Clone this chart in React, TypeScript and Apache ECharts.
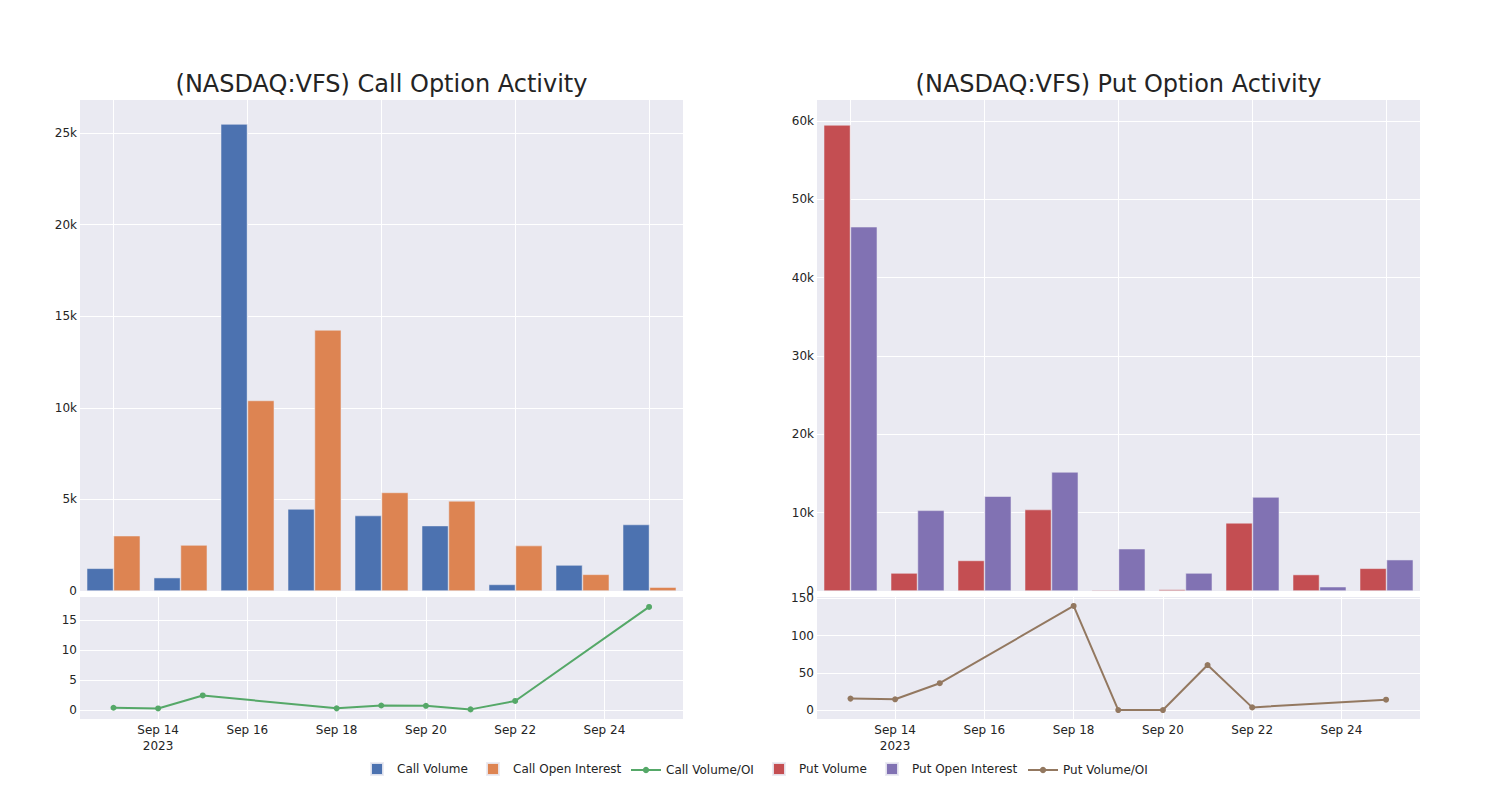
import React, { useEffect, useRef } from 'react';
import * as echarts from 'echarts';

// ---------- data ----------
const dates = ['2023-09-13', '2023-09-14', '2023-09-15', '2023-09-18', '2023-09-19', '2023-09-20', '2023-09-21', '2023-09-22', '2023-09-25'];
const callVolume = [1240, 730, 25490, 4480, 4120, 3570, 360, 1420, 3630];
const callOpenInterest = [3020, 2510, 10400, 14250, 5380, 4920, 2480, 910, 210];
const callVolumeOI = [0.37, 0.26, 2.42, 0.27, 0.75, 0.7, 0.1, 1.5, 17.15];
const putVolume = [59500, 2300, 3900, 10400, 130, 200, 8700, 2100, 2900];
const putOpenInterest = [46500, 10300, 12100, 15200, 5400, 2300, 12000, 550, 4000];
const putVolumeOI = [15.4, 14.5, 36.1, 140, 0, 0, 60.5, 3.6, 14];
const dateTicks = ['2023-09-14', '2023-09-16', '2023-09-18', '2023-09-20', '2023-09-22', '2023-09-24'];
const callBarTicks = [0, 5000, 10000, 15000, 20000, 25000];
const putBarTicks = [0, 10000, 20000, 30000, 40000, 50000, 60000];
const callRatioTicks = [0, 5, 10, 15];
const putRatioTicks = [0, 50, 100, 150];
const titles = ['(NASDAQ:VFS) Call Option Activity', '(NASDAQ:VFS) Put Option Activity'];

// ---------- style ----------
const BG = '#EAEAF2';
const TXT = 'rgb(36,36,36)';
const FONT = '"DejaVu Sans", sans-serif';
const C_BLUE = '#4C72B0';
const C_ORANGE = '#DD8452';
const C_GREEN = '#55A868';
const C_RED = '#C44E52';
const C_PURPLE = '#8172B3';
const C_BROWN = '#937860';
const DAY = 86400000;

const ts = (s: string) => {
  const [y, m, d] = s.split('-').map(Number);
  return new Date(y, m - 1, d).getTime();
};

const fmtK = (v: number) => (v === 0 ? '0' : v / 1000 + 'k');

export default function App() {
  const ref = useRef<HTMLDivElement>(null);

  useEffect(() => {
    if (!ref.current) return;
    const chart = echarts.init(ref.current, null, { renderer: 'svg' });

    const tMin = ts(dates[0]) - 0.75 * DAY;
    const tMax = ts(dates[dates.length - 1]) + 0.76 * DAY;
    const tickVals = dateTicks.map(ts);

    const gridL = 80;
    const gridR = 817;
    const gw = 603;

    const splitWhite = { show: true, lineStyle: { color: '#ffffff', width: 1 } };
    const yLabel = { color: TXT, fontSize: 12, fontFamily: FONT, margin: 3 };

    const barX = (gi: number) => ({
      type: 'category',
      gridIndex: gi,
      data: dates,
      axisLabel: { show: false },
      axisTick: { show: false, alignWithLabel: true },
      axisLine: { show: false },
      splitLine: { show: true, interval: 1, alignWithLabel: true, lineStyle: { color: '#ffffff', width: 1 } },
    });

    const lineX = (gi: number) => ({
      type: 'value',
      gridIndex: gi,
      min: tMin,
      max: tMax,
      axisLine: { show: false },
      axisTick: { show: false, customValues: tickVals },
      splitLine: splitWhite,
      axisLabel: {
        customValues: tickVals,
        color: TXT,
        fontSize: 12,
        fontFamily: FONT,
        margin: 3,
        lineHeight: 16,
        formatter: (v: number) => {
          const d = new Date(v);
          const s = 'Sep ' + d.getDate();
          return v === tickVals[0] ? s + '\n2023' : s;
        },
      },
    });

    const yAxis = (gi: number, min: number, max: number, ticks: number[], fmt?: (v: number) => string) => ({
      type: 'value',
      gridIndex: gi,
      min,
      max,
      axisLine: { show: false },
      axisTick: { show: false, customValues: ticks },
      splitLine: splitWhite,
      axisLabel: { ...yLabel, customValues: ticks, formatter: fmt ? fmt : (v: number) => String(v) },
    });

    const barSeries = (name: string, data: number[], color: string, xi: number) => ({
      name,
      type: 'bar',
      xAxisIndex: xi,
      yAxisIndex: xi,
      data,
      barGap: '0%',
      barCategoryGap: '20%',
      itemStyle: { color, borderColor: 'rgba(234,234,242,0.9)', borderWidth: 0.6 },
    });

    const lineSeries = (name: string, vals: number[], color: string, xi: number) => ({
      name,
      type: 'line',
      xAxisIndex: xi,
      yAxisIndex: xi,
      data: dates.map((d, i) => [ts(d), vals[i]]),
      symbol: 'circle',
      symbolSize: 6,
      showSymbol: true,
      lineStyle: { color, width: 2 },
      itemStyle: { color },
    });

    const legendItem = (name: string, left: number, isBar: boolean) => ({
      data: [name],
      left,
      top: isBar ? 762 : 764,
      orient: 'horizontal',
      itemWidth: 30,
      itemHeight: isBar ? 12 : 8,
      padding: 0,
      selectedMode: false,
      ...(isBar ? { icon: 'path://M0 0H10V10H0Z' } : {}),
      textStyle: { color: TXT, fontSize: 12, fontFamily: FONT, lineHeight: 12 },
    });

    const option = {
      animation: false,
      backgroundColor: '#ffffff',
      textStyle: { fontFamily: FONT },
      graphic: [
        {
          type: 'text',
          x: gridL + gw / 2,
          y: 84,
          style: { text: titles[0], fill: TXT, font: `24px ${FONT}`, textAlign: 'center', textVerticalAlign: 'middle' },
        },
        {
          type: 'text',
          x: gridR + gw / 2,
          y: 84,
          style: { text: titles[1], fill: TXT, font: `24px ${FONT}`, textAlign: 'center', textVerticalAlign: 'middle' },
        },
      ],
      grid: [
        { left: gridL, top: 100, width: gw, height: 491, show: true, backgroundColor: BG, borderWidth: 0, outerBoundsMode: 'none' },
        { left: gridL, top: 597, width: gw, height: 122, show: true, backgroundColor: BG, borderWidth: 0, outerBoundsMode: 'none' },
        { left: gridR, top: 100, width: gw, height: 491, show: true, backgroundColor: BG, borderWidth: 0, outerBoundsMode: 'none' },
        { left: gridR, top: 597, width: gw, height: 122, show: true, backgroundColor: BG, borderWidth: 0, outerBoundsMode: 'none' },
      ],
      xAxis: [barX(0), lineX(1), barX(2), lineX(3)],
      yAxis: [
        yAxis(0, 0, 26800, callBarTicks, fmtK),
        yAxis(1, -1.5, 18.8, callRatioTicks),
        yAxis(2, 0, 62680, putBarTicks, fmtK),
        yAxis(3, -12, 152, putRatioTicks),
      ],
      legend: [
        legendItem('Call Volume', 370, true),
        legendItem('Call Open Interest', 486, true),
        legendItem('Call Volume/OI', 630, false),
        legendItem('Put Volume', 772, true),
        legendItem('Put Open Interest', 885, true),
        legendItem('Put Volume/OI', 1027, false),
      ],
      series: [
        barSeries('Call Volume', callVolume, C_BLUE, 0),
        barSeries('Call Open Interest', callOpenInterest, C_ORANGE, 0),
        lineSeries('Call Volume/OI', callVolumeOI, C_GREEN, 1),
        barSeries('Put Volume', putVolume, C_RED, 2),
        barSeries('Put Open Interest', putOpenInterest, C_PURPLE, 2),
        lineSeries('Put Volume/OI', putVolumeOI, C_BROWN, 3),
      ],
    };

    chart.setOption(option as any);
    return () => chart.dispose();
  }, []);

  return <div ref={ref} style={{ width: 1500, height: 800, position: 'absolute', left: 0, top: 0 }} />;
}
